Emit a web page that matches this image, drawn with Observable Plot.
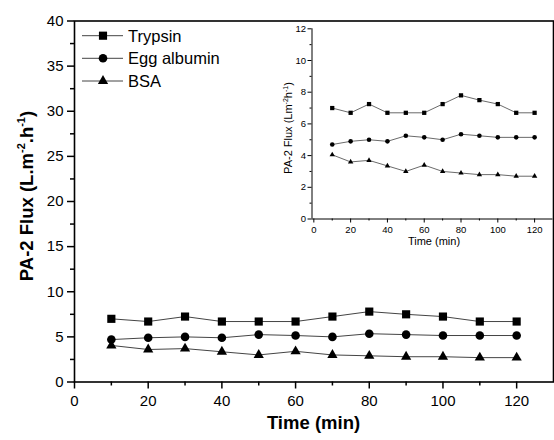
<!DOCTYPE html>
<html><head><meta charset="utf-8">
<script src="https://cdn.jsdelivr.net/npm/d3@7"></script>
<script src="https://cdn.jsdelivr.net/npm/@observablehq/plot@0.6"></script>
<style>
body{margin:0;background:#fff;}
#wrap{position:relative;width:554px;height:440px;font-family:"Liberation Sans",Arial,sans-serif;}
#wrap svg{position:absolute;left:0;top:0;overflow:visible;}
</style></head><body><div id="wrap"></div>
<script>
const times = [10, 20, 30, 40, 50, 60, 70, 80, 90, 100, 110, 120];
const seriesNames = ["Trypsin", "Egg albumin", "BSA"];
const trypsin = [7.0, 6.7, 7.25, 6.7, 6.7, 6.7, 7.25, 7.8, 7.5, 7.25, 6.7, 6.7];
const eggAlbumin = [4.7, 4.9, 5.0, 4.9, 5.25, 5.15, 5.0, 5.35, 5.25, 5.15, 5.15, 5.15];
const bsa = [4.05, 3.6, 3.7, 3.35, 3.0, 3.4, 3.0, 2.9, 2.8, 2.8, 2.7, 2.7];
const symbols = ["square", "circle", "triangle"];
const mainXTicks = [0, 20, 40, 60, 80, 100, 120];
const mainXMinor = [10, 30, 50, 70, 90, 110];
const mainYTicks = [0, 5, 10, 15, 20, 25, 30, 35, 40];
const mainYMinor = [2.5, 7.5, 12.5, 17.5, 22.5, 27.5, 32.5, 37.5];
const insetXTicks = [0, 20, 40, 60, 80, 100, 120];
const insetXMinor = [10, 30, 50, 70, 90, 110];
const insetYTicks = [0, 2, 4, 6, 8, 10, 12];
const insetYMinor = [1, 3, 5, 7, 9, 11];

const valuesList = [trypsin, eggAlbumin, bsa];
const data = seriesNames.map((name, i) => times.map((t, j) => ({name, t, v: valuesList[i][j]})));

const FONT = '"Liberation Sans", Arial, sans-serif';
const LINE = "#444";
const mainR = [4.6, 4.3, 3.8];
const insetR = [2.4, 2.3, 2.0];

function seriesMarks(rs, lw) {
  const marks = [];
  data.forEach((d, i) => {
    marks.push(Plot.line(d, {x: "t", y: "v", stroke: LINE, strokeWidth: lw}));
  });
  data.forEach((d, i) => {
    marks.push(Plot.dot(d, {x: "t", y: "v", symbol: () => symbols[i], r: rs[i], fill: "#000", stroke: "none"}));
  });
  return marks;
}

const main = Plot.plot({
  width: 554, height: 440,
  marginLeft: 74, marginRight: 1, marginTop: 20.5, marginBottom: 58.5,
  x: {domain: [0, 130]},
  y: {domain: [0, 40]},
  symbol: {type: "identity"},
  style: {fontFamily: FONT, fontSize: "15px", background: "transparent", color: "#000"},
  marks: [
    ...seriesMarks(mainR, 1),
    Plot.frame({stroke: "#000", strokeWidth: 1.6}),
    Plot.axisX({ticks: mainXTicks, tickSize: 7, tickPadding: 6, strokeWidth: 1.5, label: null, fontSize: 15}),
    Plot.axisX({ticks: mainXMinor, tickSize: 4, strokeWidth: 1.5, text: null, label: null}),
    Plot.axisY({ticks: mainYTicks, tickSize: 7, tickPadding: 4, strokeWidth: 1.5, label: null, fontSize: 15}),
    Plot.axisY({ticks: mainYMinor, tickSize: 4, strokeWidth: 1.5, text: null, label: null})
  ]
});

const inset = Plot.plot({
  width: 554, height: 440,
  marginLeft: 311.5, marginRight: 1.5, marginTop: 28.3, marginBottom: 221.5,
  x: {domain: [-1, 130]},
  y: {domain: [0, 12]},
  symbol: {type: "identity"},
  style: {fontFamily: FONT, fontSize: "9.5px", background: "transparent", color: "#000"},
  marks: [
    ...seriesMarks(insetR, 0.8),
    Plot.ruleX([-1], {stroke: "#000", strokeWidth: 1}),
    Plot.ruleY([0], {stroke: "#000", strokeWidth: 1}),
    Plot.axisX({ticks: insetXTicks, tickSize: 4, tickPadding: 3, label: null, fontSize: 9.5}),
    Plot.axisX({ticks: insetXMinor, tickSize: 2, text: null, label: null}),
    Plot.axisY({ticks: insetYTicks, tickSize: 4, tickPadding: 2, label: null, fontSize: 9.5}),
    Plot.axisY({ticks: insetYMinor, tickSize: 2, text: null, label: null})
  ]
});

const wrap = document.getElementById("wrap");
wrap.appendChild(main);
wrap.appendChild(inset);

// Titles & legend on main svg
const ms = d3.select(main);
ms.append("text").attr("x", 313.5).attr("y", 429).attr("text-anchor", "middle")
  .attr("font-family", FONT).attr("font-weight", "bold").attr("font-size", 18.5).attr("fill", "#000")
  .text("Time (min)");

const yt = ms.append("text").attr("transform", "translate(33,196) rotate(-90)").attr("text-anchor", "middle")
  .attr("font-family", FONT).attr("font-weight", "bold").attr("font-size", 18.5).attr("fill", "#000");
yt.append("tspan").text("PA-2 Flux (L.m");
yt.append("tspan").attr("font-size", 11).attr("dy", -8).text("-2");
yt.append("tspan").attr("dy", 8).text(".h");
yt.append("tspan").attr("font-size", 11).attr("dy", -8).text("-1");
yt.append("tspan").attr("dy", 8).text(")");

// Legend
const legendRows = [35.7, 58.3, 81];
const sym = [d3.symbolSquare, d3.symbolCircle, d3.symbolTriangle];
seriesNames.forEach((name, i) => {
  const g = ms.append("g").attr("transform", `translate(0,${legendRows[i]})`);
  g.append("line").attr("x1", 82).attr("x2", 123).attr("y1", 0).attr("y2", 0).attr("stroke", LINE).attr("stroke-width", 1);
  g.append("path").attr("transform", "translate(103,0)").attr("d", d3.symbol(sym[i], Math.PI * mainR[i] * mainR[i])()).attr("fill", "#000");
  g.append("text").attr("x", 128).attr("y", 6).attr("text-anchor", "start").attr("font-family", FONT).attr("font-size", 16.5).attr("fill", "#000").text(name);
});

// Inset titles
const is = d3.select(inset);
is.append("text").attr("x", 434).attr("y", 245).attr("text-anchor", "middle")
  .attr("font-family", FONT).attr("font-size", 11).attr("fill", "#000").text("Time (min)");
const it = is.append("text").attr("transform", "translate(292,128) rotate(-90)").attr("text-anchor", "middle")
  .attr("font-family", FONT).attr("font-size", 11).attr("fill", "#000");
it.append("tspan").text("PA-2 Flux (Lm");
it.append("tspan").attr("font-size", 7).attr("dy", -4.5).text("-2");
it.append("tspan").attr("dy", 4.5).text("h");
it.append("tspan").attr("font-size", 7).attr("dy", -4.5).text("-1");
it.append("tspan").attr("dy", 4.5).text(")");
</script></body></html>
